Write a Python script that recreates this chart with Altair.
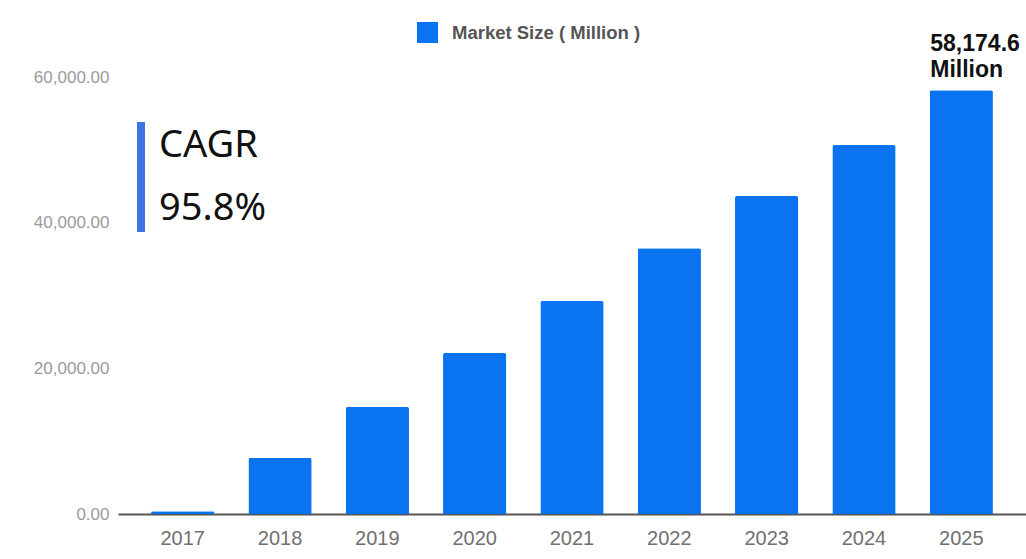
import altair as alt
import pandas as pd

years = ["2017", "2018", "2019", "2020", "2021", "2022", "2023", "2024", "2025"]
market_size = [380, 7700, 14700, 22100, 29250, 36500, 43650, 50650, 58174.6]
series_name = "Market Size ( Million )"
y_ticks = [0, 20000, 40000, 60000]
last_label = ["58,174.6", "Million"]
cagr_title = "CAGR"
cagr_value = "95.8%"

BLUE = "#0A74F0"
PAD_INNER = 0.35
PAD_OUTER = 0.34

df = pd.DataFrame({"year": years, "value": market_size, "series": [series_name] * len(years)})

x_enc = alt.X("year:N", sort=years,
              scale=alt.Scale(paddingInner=PAD_INNER, paddingOuter=PAD_OUTER),
              axis=alt.Axis(title=None, labelAngle=0, ticks=False, tickSize=0, domain=True,
                            domainColor="#555555", domainWidth=2, labelPadding=14,
                            labelFontSize=20, labelColor="#707070", labelFont="Liberation Sans",
                            grid=False))
y_enc = alt.Y("value:Q", scale=alt.Scale(domain=[0, 60000], nice=False),
              axis=alt.Axis(title=None, values=y_ticks, format=",.2f", ticks=False, tickSize=0,
                            domain=False, grid=False, labelPadding=9, labelFontSize=17,
                            labelColor="#9a9a9a", labelFont="Liberation Sans"))

bars = alt.Chart(df).mark_bar(cornerRadiusTopLeft=2, cornerRadiusTopRight=2).encode(
    x=x_enc,
    y=y_enc,
    color=alt.Color("series:N", scale=alt.Scale(range=[BLUE]),
                    legend=alt.Legend(title=None, orient="none", legendX=299, legendY=-55,
                                      symbolType="square", symbolSize=441, symbolStrokeWidth=0,
                                      labelFontSize=18.5, labelFontWeight="bold", labelColor="#555555",
                                      labelFont="Liberation Sans", labelOffset=14, labelLimit=400)),
)

last_df = pd.DataFrame({"year": [years[-1]], "value": [market_size[-1]], "label": [last_label]})
last_text = alt.Chart(last_df).mark_text(
    baseline="bottom", align="left", dx=-31, dy=-34, fontSize=23, fontWeight="bold",
    font="Liberation Sans", color="#111111", lineHeight=26
).encode(x=alt.X("year:N", sort=years), y="value:Q", text="label")

cagr_bar = alt.Chart(pd.DataFrame({"a": [0]})).mark_rule(color="#3B73E0", strokeWidth=8).encode(
    x=alt.value(23), y=alt.value(45), y2=alt.value(155))
cagr_t1 = alt.Chart(pd.DataFrame({"t": [cagr_title]})).mark_text(
    align="left", baseline="alphabetic", fontSize=38, font="Noto Sans", color="#111111"
).encode(x=alt.value(41), y=alt.value(80), text="t:N")
cagr_t2 = alt.Chart(pd.DataFrame({"t": [cagr_value]})).mark_text(
    align="left", baseline="alphabetic", fontSize=38, font="Noto Sans", color="#111111"
).encode(x=alt.value(41), y=alt.value(143), text="t:N")

chart = alt.layer(bars, last_text, cagr_bar, cagr_t1, cagr_t2).properties(
    width=908, height=437,
    autosize=alt.AutoSizeParams(type="none"),
    padding={"left": 118, "top": 77, "right": 0, "bottom": 45},
    background="white",
).configure_view(stroke=None)

chart.save("out.html", embed_options={"renderer": "svg", "actions": False})
